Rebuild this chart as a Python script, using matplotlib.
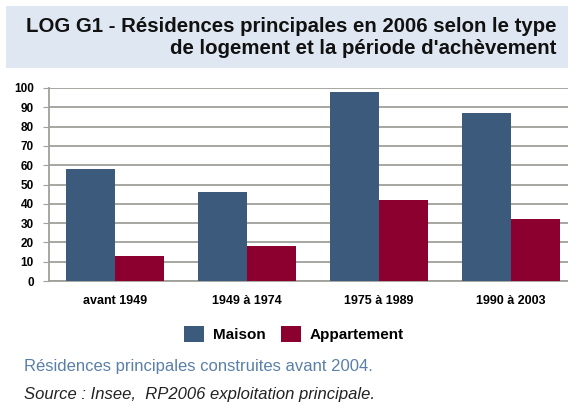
import matplotlib
matplotlib.use("Agg")
import matplotlib.pyplot as plt
from matplotlib.patches import Rectangle
import numpy as np

categories = ["avant 1949", "1949 à 1974", "1975 à 1989", "1990 à 2003"]
maison = [58, 46, 98, 87]
appartement = [13, 18, 42, 32]
yticks = [0, 10, 20, 30, 40, 50, 60, 70, 80, 90, 100]

W, H = 568, 405
fig = plt.figure(figsize=(W / 100, H / 100), dpi=100)
fig.patch.set_facecolor("white")

def fx(px):
    return px / W

def fy(py):
    return 1 - py / H

# title box
fig.patches.append(Rectangle((fx(6), fy(68)), fx(568) - fx(6), fy(6) - fy(68),
                             transform=fig.transFigure, facecolor="#dfe8f2",
                             edgecolor="none", zorder=0))
fig.text(fx(556), fy(27), "LOG G1 - Résidences principales en 2006 selon le type",
         ha="right", va="center", fontsize=14.7, fontweight="bold",
         family="Liberation Sans", color="#111111")
fig.text(fx(556), fy(49), "de logement et la période d'achèvement",
         ha="right", va="center", fontsize=14.7, fontweight="bold",
         family="Liberation Sans", color="#111111")

# axes: left 49, right 577 (beyond figure), top y=88 (100), bottom y=281 (0)
ax_left, ax_right, ax_top, ax_bot = 49, 577, 88, 281
ax = fig.add_axes([fx(ax_left), fy(ax_bot), fx(ax_right) - fx(ax_left), fy(ax_top) - fy(ax_bot)])
x = np.arange(len(categories))
bw = 0.37
ax.bar(x - bw / 2, maison, width=bw, color="#3b5a7c", label="Maison", zorder=3)
ax.bar(x + bw / 2, appartement, width=bw, color="#8c0030", label="Appartement", zorder=3)
ax.set_xlim(-0.5, len(categories) - 0.5)
ax.set_ylim(0, 100)
ax.set_yticks(yticks)
ax.set_yticklabels([str(v) for v in yticks], fontsize=8.5, fontweight="bold", family="Liberation Sans")
ax.set_xticks(x)
ax.set_xticklabels(categories, fontsize=9, fontweight="bold", family="Liberation Sans")
ax.yaxis.grid(True, color="#a0a09a", linewidth=1.3, zorder=0)
ax.set_axisbelow(True)
for s in ["top", "right"]:
    ax.spines[s].set_visible(False)
ax.spines["left"].set_color("#a0a09a")
ax.spines["bottom"].set_color("#a0a09a")
ax.spines["left"].set_linewidth(1.3)
ax.spines["bottom"].set_linewidth(1.3)
ax.tick_params(axis="y", length=4, color="#a0a09a", pad=7)
ax.tick_params(axis="x", length=0, pad=10)

leg = fig.legend(loc="center", bbox_to_anchor=(fx(294), fy(334)), ncol=2, frameon=False,
                 prop={"family": "Liberation Sans", "weight": "bold", "size": 11},
                 handlelength=1.3, handleheight=1.3, handletextpad=0.6, columnspacing=1.0)

fig.text(fx(24), fy(367), "Résidences principales construites avant 2004.",
         ha="left", va="center", fontsize=12, family="Liberation Sans", color="#5a7fa8")
fig.text(fx(24), fy(394), "Source : Insee,  RP2006 exploitation principale.",
         ha="left", va="center", fontsize=12, family="Liberation Sans", style="italic",
         color="#222222")

fig.savefig("out.png", dpi=100)
